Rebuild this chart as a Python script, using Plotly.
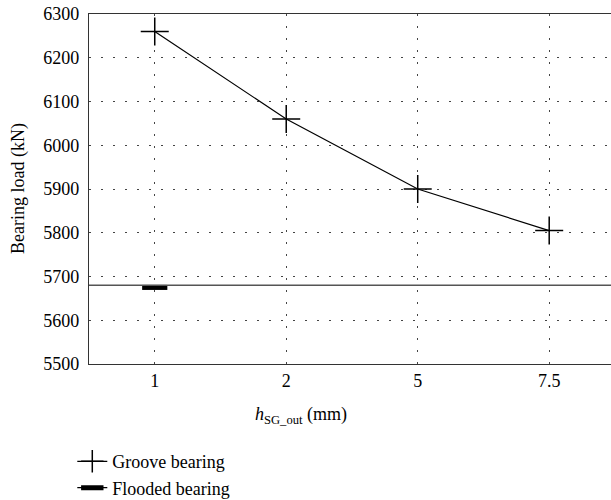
import plotly.graph_objects as go

categories = ["1", "2", "5", "7.5"]
groove_load = [6260, 6060, 5900, 5805]
flooded_load_line = 5680
flooded_marker_load = [5675]
y_ticks = [5500, 5600, 5700, 5800, 5900, 6000, 6100, 6200, 6300]

xpos = list(range(len(categories)))
FONT = "Liberation Serif, Times New Roman, serif"
FS = 18

fig = go.Figure()

fig.add_hline(y=flooded_load_line, line=dict(color="#555555", width=1.6), layer="above")

fig.add_trace(go.Scatter(
    x=xpos, y=groove_load, mode="lines+markers", name="Groove bearing",
    line=dict(color="black", width=1.2),
    marker=dict(symbol="cross-thin", size=20, line=dict(color="black", width=1.5)),
))

fig.add_trace(go.Scatter(
    x=[xpos[0]], y=flooded_marker_load, mode="lines+markers", name="Flooded bearing",
    line=dict(color="black", width=1.2),
    marker=dict(symbol="line-ew", size=18, line=dict(color="black", width=5)),
))

fig.update_layout(
    width=611, height=500,
    margin=dict(l=89, r=0, t=14, b=136, autoexpand=False),
    plot_bgcolor="white", paper_bgcolor="white",
    font=dict(family=FONT, size=FS, color="black"),
    showlegend=True,
    legend=dict(x=-0.032, y=-0.226, xanchor="left", yanchor="top",
                font=dict(family=FONT, size=FS), tracegroupgap=0,
                bgcolor="rgba(0,0,0,0)"),
    annotations=[
        dict(text="<i>h</i><sub>SG_out</sub> (mm)", xref="paper", yref="paper",
             x=0.406, y=-0.146, xanchor="center", yanchor="middle",
             showarrow=False, font=dict(family=FONT, size=FS)),
        dict(text="Bearing load (kN)", xref="paper", yref="paper",
             x=-0.136, y=0.5, xanchor="center", yanchor="middle", textangle=-90,
             showarrow=False, font=dict(family=FONT, size=FS)),
    ],
)

fig.update_xaxes(
    range=[-0.5, 3.47], tickvals=xpos, ticktext=categories,
    showgrid=True, gridcolor="#444444", gridwidth=1, griddash="2px,10px",
    showline=True, linecolor="#333333", linewidth=1.3, mirror=True,
    ticks="", zeroline=False, automargin=False,
    tickfont=dict(family=FONT, size=FS),
)

fig.update_yaxes(
    range=[5500, 6300], tickvals=y_ticks,
    showgrid=True, gridcolor="#444444", gridwidth=1, griddash="2px,10px",
    showline=True, linecolor="#333333", linewidth=1.3,
    ticks="", zeroline=False, automargin=False, ticklabelstandoff=5,
    tickfont=dict(family=FONT, size=FS),
)

fig.write_html("out.html", config={"displayModeBar": False},
               post_script="document.body.style.margin='0';document.body.style.overflow='hidden';")
